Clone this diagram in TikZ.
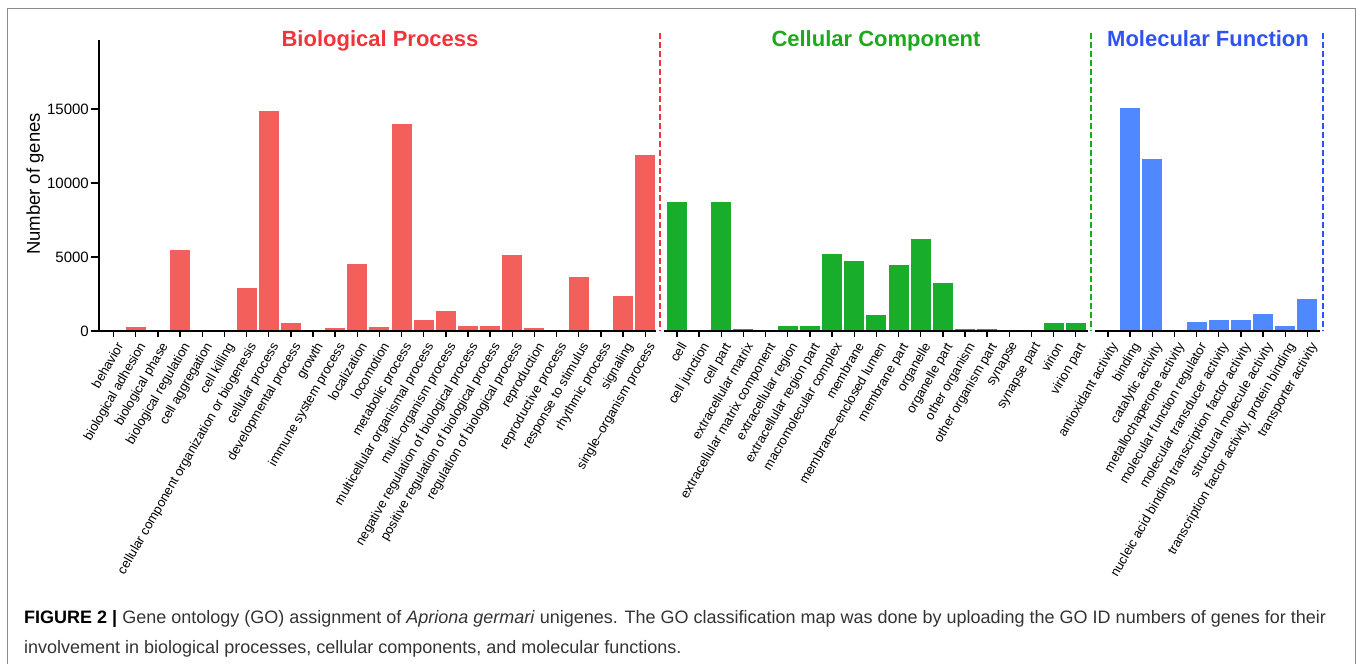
\documentclass[tikz,border=0pt]{standalone}
\usepackage{fontspec}
\setmainfont{Liberation Sans}
\definecolor{bpred}{HTML}{F3605C}
\definecolor{bptitle}{HTML}{F0343C}
\definecolor{ccgreen}{HTML}{18AE2C}
\definecolor{cctitle}{HTML}{1CAA1C}
\definecolor{mfblue}{HTML}{5088FF}
\definecolor{mftitle}{HTML}{2F52F2}
\definecolor{framegray}{HTML}{8C8C8C}
\definecolor{captext}{HTML}{333333}
\begin{document}
\begin{tikzpicture}[x=1pt, y=-1pt,
    axisline/.style={line width=1.4pt},
    golabel/.style={anchor=north east, rotate=60, inner sep=0pt, font=\fontsize{13}{13}\selectfont},
    sectitle/.style={anchor=base, font=\fontsize{22}{24}\selectfont\bfseries},
    sepline/.style={line width=2pt, dash pattern=on 6pt off 3pt},
    captline/.style={anchor=base west, inner sep=0pt, text=captext, font=\fontsize{18}{20}\selectfont}]
  \useasboundingbox (0,0) rectangle (1357,664);
  \draw[framegray, line width=1pt] (7,664) -- (7,8) -- (1355,8) -- (1355,664);

  % y axis
  \coordinate (ytop) at (99,40);
  \coordinate (orig) at (99,331);
  \draw[axisline] (ytop) -- (orig);
  \foreach \v in {0,5000,10000,15000}{
    \draw[axisline] (91,{331-0.0148*\v}) -- (99,{331-0.0148*\v});
    \node[anchor=east, inner sep=0pt, font=\fontsize{15}{15}\selectfont] (yt\v) at (89,{331-0.0148*\v}) {\v};
  }
  \node[rotate=90, font=\fontsize{18.5}{20}\selectfont] (ylab) at (35,184) {Number of genes};

  % biological process
  \foreach \v [count=\i] in {10,300,20,5470,0,0,2880,14860,540,30,230,4530,270,14010,740,1330,350,350,5140,200,80,3650,10,2370,11870}
    \fill[bpred] ({113.6+22.15*(\i-1)-10},331) rectangle ++(20,{-0.0148*\v});
  \draw[axisline] (orig) -- (656.3,331);
  \foreach \t [count=\i] in {behavior, biological adhesion, biological phase, biological regulation, cell aggregation, cell killing, cellular component organization or biogenesis, cellular process, developmental process, growth, immune system process, localization, locomotion, metabolic process, multicellular organismal process, multi–organism process, negative regulation of biological process, positive regulation of biological process, regulation of biological process, reproduction, reproductive process, response to stimulus, rhythmic process, signaling, single–organism process}{
    \draw[axisline] ({113.6+22.15*(\i-1)},331) -- ++(0,6);
    \node[golabel] (bp\i) at ({113.6+22.15*(\i-1)+2},341) {\t};
  }
  \draw[sepline, bptitle] (660,33) -- (660,331);
  \node[sectitle, text=bptitle] (bp) at (380,46.7) {Biological Process};

  % cellular component
  \foreach \v [count=\i] in {8740,0,8740,110,10,340,340,5200,4750,1060,4440,6220,3220,110,110,10,0,520,520}
    \fill[ccgreen] ({677+22.15*(\i-1)-10},331) rectangle ++(20,{-0.0148*\v});
  \draw[axisline] (663.5,331) -- (1088,331);
  \foreach \t [count=\i] in {cell, cell junction, cell part, extracellular matrix, extracellular matrix component, extracellular region, extracellular region part, macromolecular complex, membrane, membrane–enclosed lumen, membrane part, organelle, organelle part, other organism, other organism part, synapse, synapse part, virion, virion part}{
    \draw[axisline] ({677+22.15*(\i-1)},331) -- ++(0,6);
    \node[golabel] (cc\i) at ({677+22.15*(\i-1)+2},341) {\t};
  }
  \draw[sepline, cctitle] (1090.5,33) -- (1090.5,331);
  \node[sectitle, text=cctitle] (cc) at (876,46.7) {Cellular Component};

  % molecular function
  \foreach \v [count=\i] in {20,15090,11600,0,610,770,770,1130,320,2160}
    \fill[mfblue] ({1108+22.15*(\i-1)-10},331) rectangle ++(20,{-0.0148*\v});
  \draw[axisline] (1094.5,331) -- (1319.6,331);
  \foreach \t [count=\i] in {antioxidant activity, binding, catalytic activity, metallochaperone activity, molecular function regulator, molecular transducer activity, nucleic acid binding transcription factor activity, structural molecule activity, {transcription factor activity, protein binding}, transporter activity}{
    \draw[axisline] ({1108+22.15*(\i-1)},331) -- ++(0,6);
    \node[golabel] (mf\i) at ({1108+22.15*(\i-1)+2},341) {\t};
  }
  \draw[sepline, mftitle] (1323,33) -- (1323,331);
  \node[sectitle, text=mftitle] (mf) at (1208,46.7) {Molecular Function};

  % caption
  \node[captline] (cap1) at (24,623.3) {\textbf{\color{black}FIGURE 2 |} Gene ontology (GO) assignment of \textit{Apriona germari} unigenes. The GO classification map was done by uploading the GO ID numbers of genes for their};
  \node[captline] (cap2) at (24,653) {involvement in biological processes, cellular components, and molecular functions.};
\end{tikzpicture}
\end{document}
